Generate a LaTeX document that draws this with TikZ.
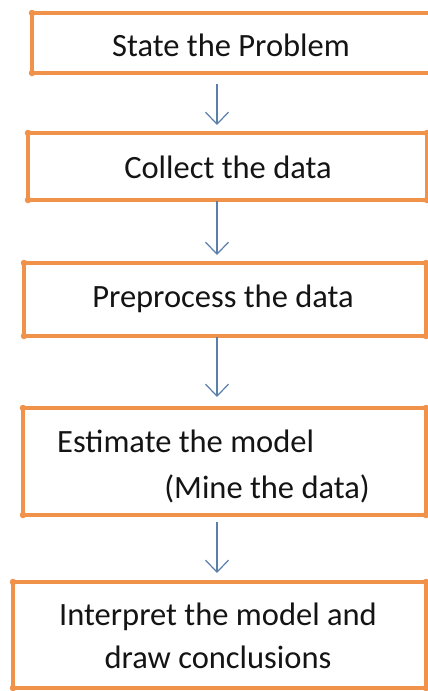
\documentclass[tikz,border=0pt]{standalone}
\usepackage{fontspec}
\setmainfont{Carlito}
\usetikzlibrary{arrows.meta}
\definecolor{boxorange}{HTML}{F0924A}
\definecolor{arrowblue}{HTML}{5A7FAA}
\begin{document}
\begin{tikzpicture}[x=1pt,y=-1pt,
  flowbox/.style={draw=boxorange, line width=4pt, rectangle, outer sep=0pt, inner sep=0pt, anchor=north west},
  txt/.style={anchor=base, inner sep=0pt, font=\fontsize{32.5}{39}\selectfont, text=black!92},
  arr/.style={draw=arrowblue, line width=1.2pt, -{Straight Barb[length=12pt, width=23pt, line width=1.2pt]}},
  cornerdot/.style={fill=boxorange, draw=none, circle, minimum size=6.5pt, inner sep=0pt}
]
\useasboundingbox (0,0) rectangle (428,691);
\clip (0,0) rectangle (428,691);
\fill[white] (0,0) rectangle (428,691);
% boxes
\node[flowbox, minimum width=408pt, minimum height=60pt] (b1) at (32,13) {};
\node[flowbox, minimum width=399pt, minimum height=67pt] (b2) at (28,133) {};
\node[flowbox, minimum width=402pt, minimum height=73pt] (b3) at (24,263) {};
\node[flowbox, minimum width=403pt, minimum height=107pt] (b4) at (23,408) {};
\node[flowbox, minimum width=413pt, minimum height=106pt] (b5) at (13,582) {};
% corner dots
\foreach \b in {b1,b2,b3,b4,b5}{
  \node[cornerdot] at (\b.north west) {};
  \node[cornerdot] at (\b.south west) {};
  \node[cornerdot] at (\b.north east) {};
  \node[cornerdot] at (\b.south east) {};
}
% texts
\node[txt] (t1) at (231,56) {State the Problem};
\node[txt] (t2) at (228,178) {Collect the data};
\node[txt] (t3) at (223,307) {Preprocess the data};
\node[txt, anchor=base west] (t4a) at (57,452) {Estimate the model};
\node[txt, anchor=base east] (t4b) at (370,498) {(Mine the data)};
\node[txt] (t5a) at (218,625) {Interpret the model and};
\node[txt] (t5b) at (218,668) {draw conclusions};
% arrows
\coordinate (ax) at (217,0);
\draw[arr, shorten <=11pt, shorten >=8pt] (b1.south -| ax) -- (b2.north -| ax);
\draw[arr, shorten <=1pt, shorten >=8pt] (b2.south -| ax) -- (b3.north -| ax);
\draw[arr, shorten <=1pt, shorten >=11pt] (b3.south -| ax) -- (b4.north -| ax);
\draw[arr, shorten <=7pt, shorten >=9pt] (b4.south -| ax) -- (b5.north -| ax);
\end{tikzpicture}
\end{document}
